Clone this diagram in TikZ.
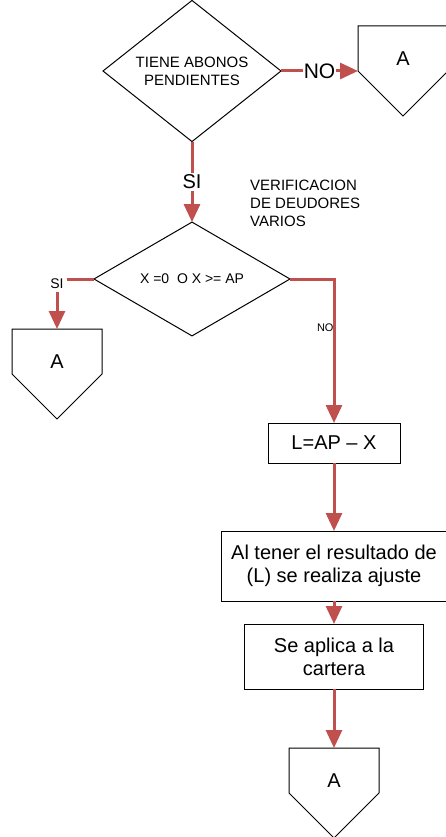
\documentclass[tikz,border=0pt]{standalone}
\usepackage{fontspec}
\setmainfont{Liberation Sans}
\usepackage{tikz}
\usetikzlibrary{shapes.geometric,arrows.meta}
\definecolor{flecha}{HTML}{C0504D}

\begin{document}
\begin{tikzpicture}[x=1pt,y=-1pt,
        decision/.style={draw,diamond,line width=1pt,inner sep=0pt,outer sep=0pt,align=center},
        proceso/.style={draw,rectangle,line width=1pt,inner sep=0pt,outer sep=0pt,align=center,font=\fontsize{20}{23}\selectfont},
        conector/.style={rectangle,minimum width=90pt,minimum height=45pt,inner sep=0pt,outer sep=0pt,text height=34pt,text depth=0pt,font=\fontsize{20}{24}\selectfont},
        flujo/.style={draw=flecha,line width=3pt,-{Triangle[length=18pt,width=16pt]}},
        etiqueta/.style={fill=white,inner sep=2pt}]
        \useasboundingbox (0,0) rectangle (446,837);
        \node[decision,minimum width=178pt,minimum height=130pt,font=\fontsize{15}{18}\selectfont] (d1) at (192,71) {TIENE ABONOS\\PENDIENTES};
        \node[conector] (a1) at (403,48.5) {A};
        \node[decision,minimum width=196pt,minimum height=106pt,font=\fontsize{14}{17}\selectfont] (d2) at (192,279) {X =0\ \ O X >= AP};
        \node[anchor=west,align=left,inner sep=0pt,font=\fontsize{15}{18}\selectfont] (nota) at (250,203) {VERIFICACION\\DE DEUDORES\\VARIOS};
        \node[conector] (a2) at (57,351.5) {A};
        \node[proceso,minimum width=132pt,minimum height=40pt] (b1) at (334,443) {L=AP – X};
        \node[proceso,minimum width=226pt,minimum height=70pt] (b2) at (334,566) {Al tener el resultado de\\(L) se realiza ajuste};
        \node[proceso,minimum width=179pt,minimum height=65pt] (b3) at (334,656.5) {Se aplica a la\\cartera};
        \node[conector] (a3) at (334,770.5) {A};
        \foreach \c in {a1,a2,a3}
            \draw[line width=1pt] (\c.north west) -- (\c.south west) -- ++(45,45) -- (\c.south east) -- (\c.north east) -- cycle;
        \draw[flujo] (d1.east) -- node[etiqueta,inner sep=0.5pt,font=\fontsize{21}{24}\selectfont]{NO} (a1.south west);
        \draw[flujo] (d1.south) -- node[etiqueta,font=\fontsize{20}{24}\selectfont]{SI} (d2.north);
        \draw[flujo] (d2.west) -| node[etiqueta,inner sep=3pt,yshift=-5pt,font=\fontsize{14}{16}\selectfont]{SI} (a2.north);
        \draw[flujo] (d2.east) -| node[pos=0.67,anchor=east,inner sep=0pt,xshift=1pt,font=\fontsize{11}{13}\selectfont]{NO} (b1.north);
        \draw[flujo] (b1.south) -- (b2.north);
        \draw[flujo] (b2.south) -- (b3.north);
        \draw[flujo] (b3.south) -- (a3.north);
    \end{tikzpicture}
\end{document}
